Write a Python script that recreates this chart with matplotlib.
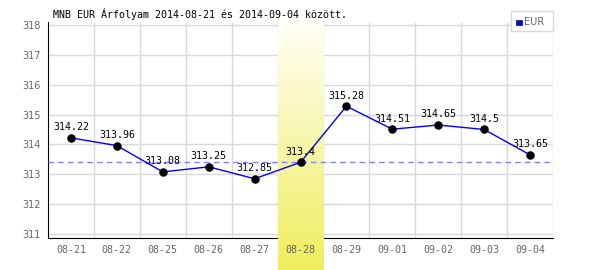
import numpy as np
from matplotlib import pyplot as plt
from matplotlib.patches import Rectangle

# Chart data
dates = ['08-21', '08-22', '08-25', '08-26', '08-27', '08-28',
         '08-29', '09-01', '09-02', '09-03', '09-04']
rates = [314.22, 313.96, 313.08, 313.25, 312.85, 313.4,
         315.28, 314.51, 314.65, 314.5, 313.65]
highlight_idx = 5
ref_value = 313.4
y_ticks = [311, 312, 313, 314, 315, 316, 317, 318]

MONO = 'DejaVu Sans Mono'
GRID = '#d9d9d9'
TICK = '#666666'

fig = plt.figure(figsize=(6, 2.7), dpi=100)
fig.patch.set_facecolor('white')
ax = fig.add_axes([48 / 600, 1 - 238 / 270, 505 / 600, 218 / 270])

n = len(dates)
x = np.arange(n)
ymin, ymax = 310.866, 318.167
ax.set_xlim(-0.5, n - 0.5)
ax.set_ylim(ymin, ymax)

# Grid
for yv in y_ticks:
    ax.plot([-0.5, n - 0.5], [yv, yv], color=GRID, linewidth=1, zorder=1)
for xv in np.arange(0.5, n, 1):
    ax.plot([xv, xv], [ymin, 318.07], color=GRID, linewidth=1, zorder=1)

# Highlighted day band (gradient white -> yellow), reaching below the axis
px = (ymax - ymin) / 218.0
band_top = ymax
band_bot = ymin - 32 * px
grad = np.linspace(0, 1, 256).reshape(-1, 1)
top_c = np.array([1.0, 1.0, 0.97])
bot_c = np.array([0.94, 0.93, 0.36])
img = top_c[None, None, :] * (1 - grad[:, :, None]) + bot_c[None, None, :] * grad[:, :, None]
ax.imshow(img, extent=(highlight_idx - 0.5, highlight_idx + 0.5, band_bot, band_top),
          aspect='auto', origin='upper', zorder=2.2, clip_on=False)
ax.set_xlim(-0.5, n - 0.5)
ax.set_ylim(ymin, ymax)

# Reference dashed line
ax.plot([-0.5, n - 0.5], [ref_value, ref_value], color='#8080ff', linewidth=1,
        linestyle=(0, (4, 3)), zorder=4)

# Series
ax.plot(x, rates, color='#0000ff', linewidth=1, zorder=5)
ax.scatter(x, rates, s=26, color='black', zorder=6)
for xi, v in zip(x, rates):
    ax.annotate(f'{v:g}', (xi, v), xytext=(0, 4), textcoords='offset points',
                ha='center', va='bottom', fontsize=7.2, family=MONO, color='black', zorder=7)

# Spines and ticks
for s in ['top', 'right']:
    ax.spines[s].set_visible(False)
ax.spines['left'].set_bounds(ymin, 318.1)
ax.spines['left'].set_zorder(2)
ax.spines['bottom'].set_zorder(2)
ax.xaxis.set_zorder(5)
ax.yaxis.set_zorder(5)
ax.set_xticks(x)
ax.set_xticklabels(dates, family=MONO, fontsize=7.2, color=TICK)
ax.set_yticks(y_ticks)
ax.set_yticklabels([str(t) for t in y_ticks], fontsize=7, color=TICK)
ax.tick_params(axis='both', length=0)
ax.tick_params(axis='x', pad=5)
ax.tick_params(axis='y', pad=5)
ax.set_facecolor('white')

# Title
fig.text(53 / 600, 1 - 14 / 270, 'MNB EUR Árfolyam 2014-08-21 és 2014-09-04 között.',
         family=MONO, fontsize=7.2, color='black', va='center', ha='left')

# Legend box
fig.patches.append(Rectangle((511 / 600, 1 - 31 / 270), 42 / 600, 20 / 270,
                             transform=fig.transFigure, facecolor='white',
                             edgecolor=GRID, linewidth=1, zorder=10))
fig.patches.append(Rectangle((516 / 600, 1 - 25 / 270), 5.5 / 600, 5.5 / 270,
                             transform=fig.transFigure, facecolor='#0000ff',
                             edgecolor='#333366', linewidth=0.8, zorder=11))
fig.text(524 / 600, 1 - 22 / 270, 'EUR', fontsize=7, color=TICK,
         va='center', ha='left', zorder=12)

fig.savefig('out.png', dpi=100)
